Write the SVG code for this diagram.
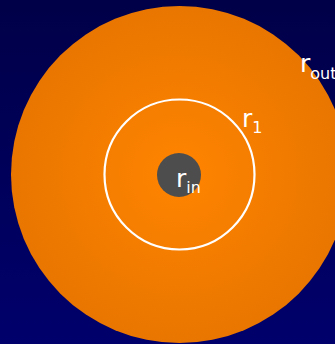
<svg xmlns="http://www.w3.org/2000/svg" width="335" height="344" viewBox="0 0 335 344">
<defs>
<linearGradient id="bg" x1="0" y1="0" x2="0" y2="1">
<stop offset="0" stop-color="#000048"/>
<stop offset="1" stop-color="#00006c"/>
</linearGradient>
<radialGradient id="or" cx="0.5" cy="0.5" r="0.5">
<stop offset="0" stop-color="#ff8400"/>
<stop offset="1" stop-color="#e97600"/>
</radialGradient>
<style>
.t{font-family:"DejaVu Sans",sans-serif;fill:#fff}
.b{font-size:25px}
.s{font-size:16px}
</style>
</defs>
<rect width="335" height="344" fill="url(#bg)"/>
<g id="outer"><circle cx="179.5" cy="174.5" r="168.5" fill="url(#or)"/></g>
<g id="r1circle"><circle cx="179.5" cy="174.5" r="75" fill="none" stroke="#fff" stroke-width="2.2"/></g>
<g id="inner"><circle cx="179" cy="175" r="22" fill="#4d4d4d"/></g>
<g id="labels">
<text class="t b" x="176" y="187">r<tspan class="s" dy="6">in</tspan></text>
<text class="t b" x="242" y="127">r<tspan class="s" dy="6">1</tspan></text>
<text class="t b" x="300" y="72">r<tspan class="s" dy="7">out</tspan></text>
</g>
</svg>
